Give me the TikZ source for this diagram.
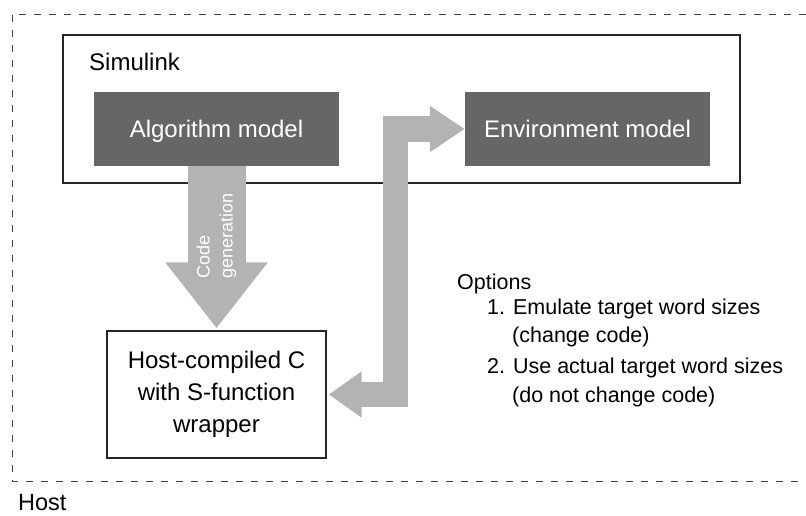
\documentclass[tikz,border=0pt]{standalone}
\usepackage{fontspec}
\setmainfont{Liberation Sans}
\usepackage{tikz}
\usetikzlibrary{arrows.meta}

\definecolor{modelgray}{HTML}{666666}
\definecolor{arrowgray}{HTML}{B3B3B3}
\tikzset{
    model/.style={fill=modelgray, text=white, minimum width=245pt, minimum height=74pt,
        text height=17pt, text depth=0pt, font=\fontsize{24}{28}\selectfont},
    wrapbox/.style={draw=black!85, line width=1.3pt, fill=white, minimum width=219pt,
        minimum height=127pt, align=center, font=\fontsize{24}{32}\selectfont},
    bigarrow/.style={arrowgray, line join=miter},
    optline/.style={anchor=base west, inner sep=0pt, font=\fontsize{21.5}{26}\selectfont},
    bigtext/.style={anchor=base west, inner sep=0pt, font=\fontsize{24}{28}\selectfont}
}

\begin{document}
\begin{tikzpicture}[x=1pt,y=-1pt]
    \useasboundingbox (0,0) rectangle (806,515);
    % host frame
    \draw[dash pattern=on 7pt off 8pt, black!75, line width=1pt] (806,14) -- (12,14) -- (12,481) -- (806,481);
    \node[bigtext, font=\fontsize{23.5}{28}\selectfont] (hostlabel) at (18,510) {Host};
    % simulink
    \draw[black!85, line width=1.3pt] (63,35) rectangle (740,183);
    \node[bigtext] (simlabel) at (89,70) {Simulink};
    \node[model] (algo) at (216.5,128.5) {Algorithm model};
    \node[model] (env) at (587.5,129) {Environment model};
    \node[wrapbox] (wrap) at (216.5,394.5) {Host-compiled C\\with S-function\\wrapper};
    % arrows
    \draw[bigarrow, line width=58pt, -{Triangle[length=66pt,width=98pt]}, shorten >=2pt] (algo.south) -- (wrap.north);
    \node[rotate=90, anchor=west, align=left, inner sep=0pt, text=white,
        font=\fontsize{18}{23}\selectfont] (codegen) at (216.5,279) {Code\\generation};
    \draw[bigarrow, line width=25.5pt, {Triangle[length=33pt,width=44pt]}-{Triangle[length=35pt,width=44pt]},
        shorten <=2pt] (wrap.east) -| (395.5,129) -- (env.west);
    % options
    \node[optline] (opts) at (457,289) {Options};
    \node[optline] (opt1) at (487,314) {1. Emulate target word sizes};
    \node[optline] (opt1b) at (512,342) {(change code)};
    \node[optline] (opt2) at (487,373) {2. Use actual target word sizes};
    \node[optline] (opt2b) at (512,402) {(do not change code)};
\end{tikzpicture}
\end{document}
